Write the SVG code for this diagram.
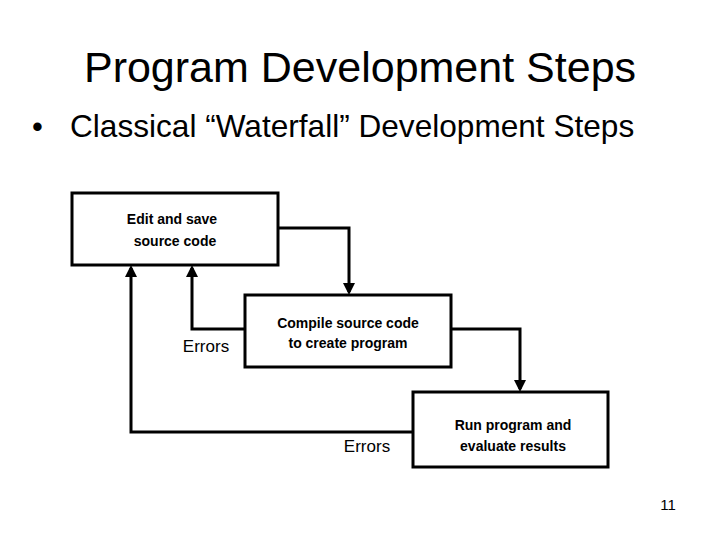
<svg xmlns="http://www.w3.org/2000/svg" width="720" height="540" viewBox="0 0 720 540">
<style>
.box{fill:#fff;stroke:#000;stroke-width:3}
.ln{fill:none;stroke:#000;stroke-width:3;marker-end:url(#ah)}
.bt{font-family:"Liberation Sans",Arial,sans-serif;font-weight:bold;font-size:14px;text-anchor:middle}
.lb{font-family:"Liberation Sans",Arial,sans-serif;font-size:17px;text-anchor:middle}
</style>
<defs><marker id="ah" markerWidth="4" markerHeight="4" refX="3" refY="2" orient="auto" markerUnits="strokeWidth"><path d="M0,0L4,2L0,4z"/></marker></defs>
<rect width="720" height="540" fill="#fff"/>
<text x="360" y="82" font-family="Liberation Sans,Arial,sans-serif" font-size="43" text-anchor="middle">Program Development Steps</text>
<text x="32" y="137" font-family="Liberation Sans,Arial,sans-serif" font-size="31">•</text>
<text x="70" y="137" font-family="Liberation Sans,Arial,sans-serif" font-size="31.6">Classical “Waterfall” Development Steps</text>
<g id="connectors">
<path class="ln" d="M278,228H349V292"/>
<path class="ln" d="M451,329H520V389"/>
<path class="ln" d="M245,329H192V268"/>
<path class="ln" d="M413,432H131V268"/>
</g>
<g id="edit"><rect class="box" x="72" y="193" width="206" height="72"/>
<text class="bt" x="172" y="224">Edit and save</text><text class="bt" x="175" y="246">source code</text></g>
<g id="compile"><rect class="box" x="245" y="295" width="206" height="72"/>
<text class="bt" x="348" y="328">Compile source code</text><text class="bt" x="348" y="348">to create program</text></g>
<g id="run"><rect class="box" x="413" y="392" width="195" height="75"/>
<text class="bt" x="513" y="430">Run program and</text><text class="bt" x="513" y="451">evaluate results</text></g>
<text class="lb" x="206" y="352">Errors</text>
<text class="lb" x="367" y="452">Errors</text>
<text x="668" y="510" font-family="Liberation Sans,Arial,sans-serif" font-size="15" text-anchor="middle">11</text>
</svg>
